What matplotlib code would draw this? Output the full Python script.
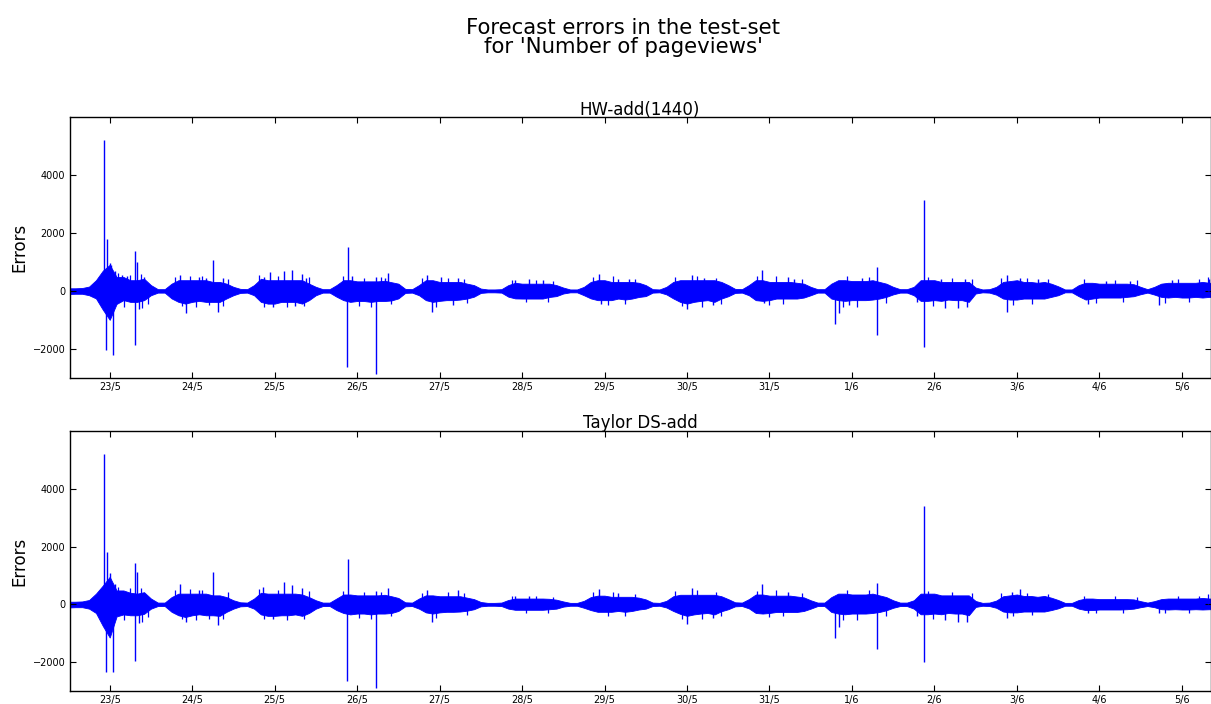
import numpy as np
import pandas as pd
import matplotlib
matplotlib.use('Agg')
import matplotlib.pyplot as plt

# Zeitraster: alle 2 Stunden, Stunden relativ zu 23/5 00:00
start = pd.Timestamp('2016-05-23')
hours = np.arange(-12, 323, 2)

# HW-add(1440): obere / untere Huellkurve der Fehler (eine Zeile pro Tag)
hw_upper = [
    90, 90, 100, 150, 370, 700,
    900, 480, 480, 370, 370, 420, 200, 60, 60, 250, 370, 370,
    370, 370, 370, 310, 310, 250, 140, 70, 60, 200, 420, 370,
    370, 370, 370, 370, 370, 250, 140, 60, 60, 200, 370, 370,
    330, 330, 330, 330, 350, 300, 250, 70, 60, 200, 370, 370,
    310, 310, 310, 310, 250, 200, 80, 50, 50, 60, 200, 280,
    250, 250, 250, 250, 250, 200, 115, 50, 50, 140, 310, 370,
    370, 310, 310, 310, 310, 280, 200, 60, 50, 140, 310, 370,
    370, 370, 370, 370, 370, 310, 200, 70, 60, 200, 370, 370,
    310, 310, 310, 310, 280, 250, 140, 60, 60, 250, 370, 370,
    340, 340, 340, 370, 310, 250, 140, 60, 60, 140, 370, 370,
    370, 310, 310, 310, 310, 310, 115, 50, 60, 140, 310, 340,
    370, 310, 310, 280, 310, 250, 160, 50, 50, 200, 280, 280,
    250, 250, 250, 250, 250, 230, 140, 60, 140, 250, 280, 280,
    280, 280, 280, 310, 280, 280,
]
hw_lower = [
    -110, -100, -100, -150, -260, -650,
    -1000, -450, -320, -380, -380, -320, -150, -60, -60, -260, -380, -440,
    -380, -345, -380, -380, -380, -260, -150, -70, -60, -150, -380, -440,
    -440, -380, -380, -380, -440, -320, -150, -60, -60, -200, -320, -380,
    -350, -350, -380, -350, -350, -330, -260, -70, -60, -150, -320, -380,
    -345, -320, -320, -300, -265, -200, -70, -50, -50, -60, -200, -260,
    -265, -265, -265, -265, -210, -180, -90, -50, -50, -150, -260, -320,
    -320, -320, -265, -300, -265, -210, -180, -60, -50, -120, -260, -380,
    -440, -380, -345, -320, -380, -265, -184, -70, -60, -150, -320, -345,
    -320, -265, -265, -265, -265, -230, -150, -60, -60, -265, -320, -345,
    -320, -320, -320, -300, -265, -207, -120, -60, -60, -150, -345, -345,
    -320, -345, -300, -320, -320, -380, -90, -50, -60, -130, -265, -300,
    -300, -265, -265, -265, -265, -207, -150, -50, -50, -184, -300, -265,
    -230, -230, -230, -230, -207, -184, -115, -60, -127, -207, -230, -207,
    -230, -230, -207, -230, -207, -207,
]
# grosse Ausreisser (Stunde, Fehler)
hw_spike_h = [-1.6, -0.9, -1.0, 0.0, 0.3, 0.9, 1.5, 3.5, 5.0, 7.3, 7.3, 7.9, 8.5, 10.0,
              20.5, 22.1, 26.0, 28.0, 30.2, 31.6, 33.0,
              45.0, 46.5, 47.5, 50.8, 53.1, 54.0, 55.9, 57.0,
              69.1, 69.4, 70.5, 77.5, 77.5, 80.0, 81.1,
              92.4, 93.9, 96.5, 100.0, 101.5,
              118.0, 122.0, 126.0,
              142.4, 143.0, 148.0, 151.0,
              167.9, 169.4, 173.0, 175.5,
              189.7, 190.5, 197.5, 199.0,
              211.1, 212.3, 215.0, 219.0, 223.2, 223.2,
              235.0, 237.0, 237.0, 242.0, 243.0, 247.0, 249.0, 249.5,
              261.0, 261.0, 265.0, 270.0,
              284.8, 290.0, 297.0,
              305.4, 309.0, 320.0]
hw_spike_v = [5230, 1800, -2050, 950, 900, -2220, 700, 550, 520, 1380, -1870, 1000, -620, 480,
              540, -780, 480, 450, 1080, -720, 430,
              480, 650, -550, 700, 720, -520, 600, 430,
              -2620, 1520, 500, -2870, 480, 450, 620,
              540, -725, 480, -480, 430,
              380, 400, 380,
              600, -450, 420, 420,
              -610, 540, 450, -500,
              710, -420, 480, 400,
              -1150, -780, -500, 450, 830, -1530,
              -380, 3150, -1930, 420, -600, -600, 420, -550,
              540, -720, 430, 420,
              -460, 350, 330,
              -500, 380, 420]
# kleine Ausreisser innerhalb der Tagesbloecke
hw_small_h = [2.5, 4.2, 6.0, 9.0, 9.5, 11.0,
              19.0, 21.0, 23.5, 25.0, 27.0, 29.0, 33.0, 34.5,
              43.5, 45.0, 49.0, 51.5, 56.5, 58.0,
              68.0, 72.5, 74.0, 76.0, 79.0, 82.0,
              91.0, 95.0, 98.5, 103.0, 104.0,
              117.0, 121.0, 124.0, 127.5, 129.0,
              140.5, 145.0, 146.5, 150.0, 153.0,
              164.5, 166.5, 171.0, 172.5, 176.5, 178.0,
              188.5, 192.0, 194.0, 196.0, 201.5,
              213.5, 214.5, 217.5, 221.0, 226.0,
              238.0, 239.5, 245.0, 251.0,
              259.5, 263.0, 267.0, 268.5, 273.0,
              283.5, 287.0, 292.5, 295.0, 299.0,
              307.0, 311.0, 314.0, 317.0, 319.5]
hw_small_v = [620, -560, 560, 580, -600, -450,
              480, -520, 520, -560, 500, -500, -520, 420,
              550, -560, 520, -560, -520, 480,
              520, -520, 450, -560, 480, -450,
              450, -560, 450, 420, -420,
              380, -400, 380, -380, 350,
              480, -480, 500, -460, 420,
              480, -520, 520, -560, 450, -450,
              500, -480, 520, -450, 420,
              -550, 500, -560, 480, -420,
              480, -520, 450, 420,
              450, -500, 450, -450, 420,
              400, -420, 380, -400, 360,
              -420, 420, -400, 400, 480]

# Taylor DS-add
ty_upper = [
    90, 90, 100, 150, 370, 650,
    950, 480, 480, 400, 370, 420, 200, 60, 60, 250, 370, 370,
    370, 370, 370, 310, 310, 250, 140, 70, 60, 200, 400, 370,
    370, 370, 370, 370, 340, 250, 140, 60, 60, 200, 340, 340,
    310, 310, 310, 310, 330, 280, 220, 70, 60, 200, 310, 310,
    280, 280, 280, 280, 230, 180, 80, 50, 50, 60, 150, 200,
    200, 200, 200, 200, 190, 160, 100, 50, 50, 120, 250, 300,
    300, 260, 260, 260, 260, 230, 170, 60, 50, 120, 280, 330,
    330, 330, 330, 330, 330, 280, 180, 70, 60, 180, 340, 340,
    300, 300, 300, 300, 270, 240, 140, 60, 60, 250, 370, 370,
    340, 340, 340, 370, 310, 250, 140, 60, 60, 140, 370, 370,
    370, 310, 310, 310, 310, 310, 115, 50, 60, 130, 280, 310,
    340, 290, 290, 260, 290, 230, 150, 50, 50, 150, 200, 200,
    180, 180, 180, 180, 180, 170, 110, 60, 110, 180, 200, 200,
    200, 200, 200, 220, 200, 200,
]
ty_lower = [
    -110, -100, -100, -150, -300, -750,
    -1150, -420, -350, -380, -380, -330, -150, -60, -60, -260, -380, -440,
    -380, -345, -380, -380, -400, -260, -150, -70, -60, -150, -350, -400,
    -400, -380, -380, -350, -400, -300, -150, -60, -60, -200, -300, -350,
    -320, -320, -350, -320, -320, -300, -230, -70, -60, -150, -280, -320,
    -280, -260, -260, -250, -220, -170, -70, -50, -50, -60, -150, -190,
    -190, -190, -190, -190, -170, -150, -80, -50, -50, -120, -200, -260,
    -260, -260, -230, -260, -230, -180, -150, -60, -50, -110, -230, -330,
    -400, -350, -320, -300, -350, -240, -170, -70, -60, -140, -300, -320,
    -300, -265, -265, -265, -265, -230, -150, -60, -60, -265, -320, -345,
    -320, -320, -320, -300, -265, -207, -120, -60, -60, -150, -345, -345,
    -320, -345, -300, -320, -320, -380, -90, -50, -60, -120, -250, -280,
    -280, -250, -250, -250, -250, -200, -140, -50, -50, -150, -200, -200,
    -180, -180, -180, -180, -170, -150, -100, -60, -100, -170, -180, -170,
    -180, -180, -170, -180, -170, -170,
]
ty_spike_h = [-1.6, -0.9, -1.0, 0.0, 0.9, 1.5, 7.3, 7.3, 7.9, 8.5,
              20.5, 22.1, 26.0, 30.2, 31.6,
              44.5, 47.5, 50.8, 53.1, 55.9,
              69.1, 69.4, 77.5, 77.5, 81.1,
              92.4, 93.9, 101.5,
              118.0, 122.0,
              142.4, 148.0,
              167.9, 169.4, 175.5,
              189.7, 197.5,
              211.1, 212.3, 223.2, 223.2,
              235.0, 237.0, 237.0, 243.0, 247.0, 249.5,
              261.0, 262.5, 265.0,
              284.8, 305.4]
ty_spike_v = [5220, 1820, -2350, 1070, -2350, 700, 1420, -1970, 1120, -650,
              720, -600, 500, 1120, -730,
              600, -500, 780, 660, 550,
              -2670, 1570, -2900, 450, 550,
              490, -600, 490,
              300, 300,
              520, 380,
              -670, 580, -480,
              700, 420,
              -1160, -790, 740, -1540,
              -400, 3420, -2010, -560, -600, -615,
              -480, 420, 545,
              -300, -300]
ty_small_h = [2.5, 4.2, 6.0, 9.0, 9.5, 11.0,
              19.0, 21.0, 23.5, 25.0, 27.0, 29.0, 33.0, 34.5,
              43.5, 45.0, 49.0, 51.5, 56.5, 58.0,
              68.0, 72.5, 74.0, 76.0, 79.0, 82.0,
              91.0, 95.0, 98.5, 103.0, 104.0,
              117.0, 121.0, 124.0, 127.5, 129.0,
              140.5, 145.0, 146.5, 150.0, 153.0,
              164.5, 166.5, 171.0, 172.5, 176.5, 178.0,
              188.5, 192.0, 194.0, 196.0, 201.5,
              213.5, 214.5, 217.5, 221.0, 226.0,
              238.0, 239.5, 245.0, 251.0,
              259.5, 263.0, 267.0, 268.5, 273.0,
              283.5, 287.0, 292.5, 295.0, 299.0,
              307.0, 311.0, 314.0, 317.0, 319.5]
ty_small_v = [600, -560, 560, 560, -600, -450,
              480, -520, 520, -540, 500, -500, -520, 420,
              520, -520, 500, -540, -500, 460,
              460, -480, 420, -500, 440, -420,
              400, -480, 420, 380, -380,
              300, -300, 290, -290, 270,
              420, -420, 440, -400, 370,
              460, -500, 480, -520, 420, -420,
              470, -450, 480, -420, 400,
              -550, 500, -560, 480, -420,
              460, -500, 430, 400,
              380, -420, 380, -380, 350,
              300, -300, 280, -290, 270,
              -300, 300, -290, 300, 340]

tick_dates = pd.date_range('2016-05-23', '2016-06-05', freq='D')
tick_labels = ['23/5', '24/5', '25/5', '26/5', '27/5', '28/5', '29/5',
               '30/5', '31/5', '1/6', '2/6', '3/6', '4/6', '5/6']

panels = [
    ('HW-add(1440)', hw_upper, hw_lower, hw_spike_h, hw_spike_v, hw_small_h, hw_small_v),
    ('Taylor DS-add', ty_upper, ty_lower, ty_spike_h, ty_spike_v, ty_small_h, ty_small_v),
]

t = start + pd.to_timedelta(hours, unit='h')

fig = plt.figure(figsize=(12.11, 7.04), dpi=100)
fig.text(0.5148, 0.947, "Forecast errors in the test-set\nfor 'Number of pageviews'",
         ha='center', va='center', fontsize=15.3, linespacing=0.9)

boxes = [[0.0574, 0.4635, 0.9422, 0.3699],
         [0.0574, 0.0185, 0.9422, 0.3693]]

for box, (name, up, lo, sh, sv, kh, kv) in zip(boxes, panels):
    ax = fig.add_axes(box)
    ax.fill_between(t, lo, up, color='b', lw=0.6)
    ax.vlines(start + pd.to_timedelta(kh, unit='h'), 0, kv, color='b', lw=0.9)
    ax.vlines(start + pd.to_timedelta(sh, unit='h'), 0, sv, color='b', lw=1.0)
    ax.set_xlim(start + pd.Timedelta(hours=-11.7), start + pd.Timedelta(hours=320.35))
    ax.set_ylim(-3000, 6000)
    ax.set_yticks([-2000, 0, 2000, 4000])
    ax.set_xticks(tick_dates)
    ax.set_xticklabels(tick_labels)
    ax.tick_params(direction='in', top=True, right=True, length=4, labelsize=7, pad=3)
    ax.set_title(name, fontsize=12, pad=2)
    ax.set_ylabel('Errors', fontsize=12)
    ax.yaxis.set_label_coords(-0.036, 0.5)
    for s in ax.spines.values():
        s.set_linewidth(1.0)

fig.savefig('out.png', dpi=100)
